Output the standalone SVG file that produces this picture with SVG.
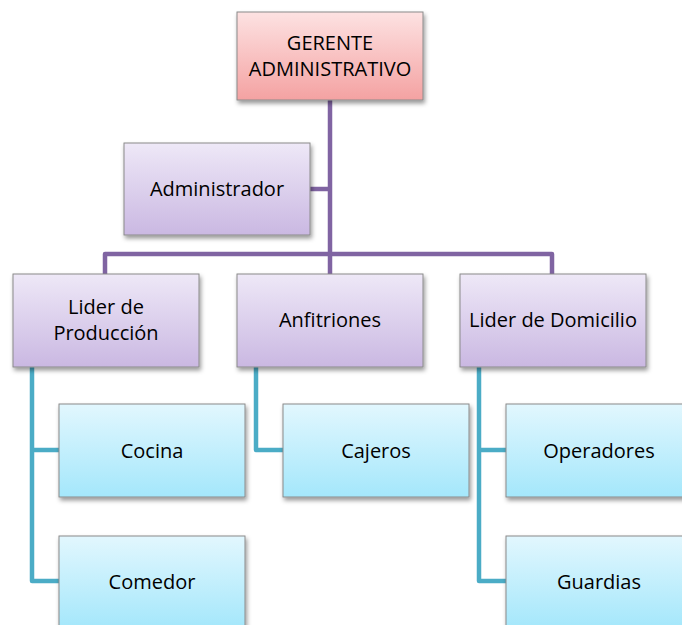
<svg xmlns="http://www.w3.org/2000/svg" width="682" height="625" viewBox="0 0 682 625">
<defs>
<linearGradient id="gPink" x1="0" y1="0" x2="0" y2="1"><stop offset="0" stop-color="#fde2e2"/><stop offset="1" stop-color="#f4a2a2"/></linearGradient>
<linearGradient id="gPurple" x1="0" y1="0" x2="0" y2="1"><stop offset="0" stop-color="#eee8f7"/><stop offset="1" stop-color="#cab8e2"/></linearGradient>
<linearGradient id="gBlue" x1="0" y1="0" x2="0" y2="1"><stop offset="0" stop-color="#e2f7fe"/><stop offset="1" stop-color="#a4e7fb"/></linearGradient>
<filter id="sh" x="-10%" y="-10%" width="130%" height="140%"><feDropShadow dx="1.5" dy="3" stdDeviation="2" flood-color="#000" flood-opacity="0.4"/></filter>
</defs>
<style>
.box{stroke:#8a8a8a;stroke-width:1;filter:url(#sh)}
.pk{fill:url(#gPink)}
.pu{fill:url(#gPurple)}
.bl{fill:url(#gBlue)}
text{font-family:"Open Sans","Liberation Sans",sans-serif;font-size:20px;fill:#000;text-anchor:middle}
.cp{fill:none;stroke:#8064a2;stroke-width:4.5;stroke-linejoin:round}
.ct{fill:none;stroke:#4bacc6;stroke-width:4.5;stroke-linejoin:round}
</style>
<rect width="682" height="625" fill="#fff"/>
<g id="connectors">
<path class="cp" d="M330 100 V276"/>
<path class="cp" d="M310 189 H330"/>
<path class="cp" d="M105 276 V254 H552 V276"/>
<path class="ct" d="M32 367 V581 H59 M32 450 H59"/>
<path class="ct" d="M256 367 V450 H283"/>
<path class="ct" d="M479 367 V581 H506 M479 450 H506"/>
</g>
<g id="gerente"><rect class="box pk" x="237" y="12" width="186" height="88"/><text x="330" y="50">GERENTE</text><text x="330" y="76">ADMINISTRATIVO</text></g>
<g id="administrador"><rect class="box pu" x="124" y="143" width="186" height="92"/><text x="217" y="196">Administrador</text></g>
<g id="lider-produccion"><rect class="box pu" x="13" y="274" width="186" height="93"/><text x="106" y="314">Lider de</text><text x="106" y="340">Producción</text></g>
<g id="anfitriones"><rect class="box pu" x="237" y="274" width="186" height="93"/><text x="330" y="327">Anfitriones</text></g>
<g id="lider-domicilio"><rect class="box pu" x="460" y="274" width="186" height="93"/><text x="553" y="327">Lider de Domicilio</text></g>
<g id="cocina"><rect class="box bl" x="59" y="404" width="186" height="93"/><text x="152" y="458">Cocina</text></g>
<g id="comedor"><rect class="box bl" x="59" y="536" width="186" height="93"/><text x="152" y="589">Comedor</text></g>
<g id="cajeros"><rect class="box bl" x="283" y="404" width="186" height="93"/><text x="376" y="458">Cajeros</text></g>
<g id="operadores"><rect class="box bl" x="506" y="404" width="186" height="93"/><text x="599" y="458">Operadores</text></g>
<g id="guardias"><rect class="box bl" x="506" y="536" width="186" height="93"/><text x="599" y="589">Guardias</text></g>
</svg>
